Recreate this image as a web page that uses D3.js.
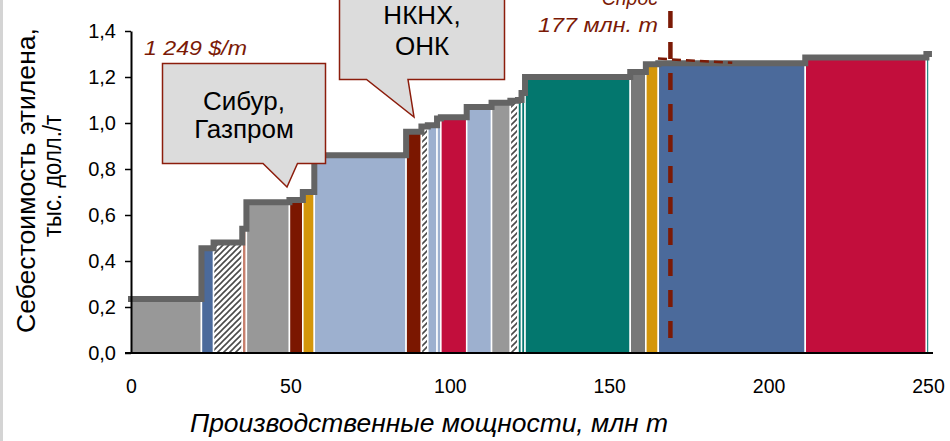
<!DOCTYPE html>
<html><head><meta charset="utf-8">
<script src="https://cdn.jsdelivr.net/npm/d3@7"></script>
<style>body{margin:0;background:#fff} svg{display:block;font-family:"Liberation Sans",Arial,sans-serif}</style>
</head><body><svg id="c" width="950" height="441"></svg>
<script>
// ---- data ----
const capacities = [22.1, 3.8, 9.0, 1.3, 13.5, 4.2, 3.6, 28.8, 4.8, 2.0, 2.9, 1.2, 8.1, 7.8, 5.9, 2.4, 1.1, 1.1, 33.0, 4.9, 3.9, 46.1, 38.0, 0.8];
const costs      = [0.235, 0.455, 0.48, 0.54, 0.655, 0.665, 0.70, 0.86, 0.962, 0.985, 0.99, 1.02, 1.025, 1.07, 1.088, 1.097, 1.10, 1.13, 1.20, 1.222, 1.255, 1.26, 1.285, 1.30];
const groups     = ["gray","blue","hatch","salmon","gray","darkred","gold","lightblue","darkred","hatch","lightblue","lightblue","crimson","lightblue","gray","hatch","teal","teal","teal","darkgray","gold","blue","crimson","teal"];
const yTicks = [0, 0.2, 0.4, 0.6, 0.8, 1.0, 1.2, 1.4];
const xTicks = [0, 50, 100, 150, 200, 250];
const demandValue = 169.2;
const demandLabel = ["Спрос", "177 млн. т"];
const priceLabel = "1 249 $/т";
const priceSegment = [[165.3, 1.28], [188.6, 1.262]];
const calloutTexts = [["Сибур,", "Газпром"], ["НКНХ,", "ОНК"]];
const xTitle = "Производственные мощности, млн т";
const yTitle = ["Себестоимость этилена,", "тыс. долл./т"];

// ---- style ----
const colors = {gray:"#989898", darkgray:"#787878", blue:"#4b6a9b", lightblue:"#9db0cf", darkred:"#7b1700",
  gold:"#d4960b", crimson:"#c20e3c", teal:"#03776e", salmon:"#c8806e", hatch:"url(#hatch)"};
const red = "#7b1a06";

const svg = d3.select("#c");
const x = d3.scaleLinear().domain([0, 250]).range([131, 928]);
const y = d3.scaleLinear().domain([0, 1.4]).range([353, 31]);

// left border
svg.append("line").attr("x1",1.5).attr("x2",1.5).attr("y1",0).attr("y2",441).attr("stroke","#d4d4d4").attr("stroke-width",3);

const defs = svg.append("defs");
const pat = defs.append("pattern").attr("id","hatch").attr("patternUnits","userSpaceOnUse").attr("width",6).attr("height",6);
pat.append("rect").attr("width",6).attr("height",6).attr("fill","#fff");
pat.append("path").attr("d","M-1.5,1.5 l3,-3 M0,6 l6,-6 M4.5,7.5 l3,-3").attr("stroke","#4a4a4a").attr("stroke-width",1.6);

// bars
let acc = 0;
const bars = capacities.map((c, i) => { const b = {x0: acc, x1: acc + c, v: costs[i], g: groups[i]}; acc += c; return b; });
svg.append("g").selectAll("rect").data(bars).join("rect")
  .attr("x", d => x(d.x0)).attr("width", d => x(d.x1) - x(d.x0))
  .attr("y", d => y(d.v)).attr("height", d => y(0) - y(d.v))
  .attr("fill", d => colors[d.g]).attr("stroke", "#fff").attr("stroke-width", 1.5);

// demand dashed line
svg.append("line").attr("x1", x(demandValue)).attr("x2", x(demandValue)).attr("y1", 11).attr("y2", y(0))
  .attr("stroke", red).attr("stroke-width", 4.5).attr("stroke-dasharray", "17,14");

// envelope
const env = bars.map(d => [d.x0, d.v]).concat([[bars[bars.length-1].x1, bars[bars.length-1].v]]);
svg.append("path").attr("d", d3.line().x(d => x(d[0])).y(d => y(d[1])).curve(d3.curveStepAfter)(env))
  .attr("fill","none").attr("stroke","#646464").attr("stroke-width",6).attr("stroke-linejoin","miter").attr("stroke-linecap","square");

// price segment
svg.append("path").attr("d", d3.line().x(d => x(d[0])).y(d => y(d[1]))(priceSegment))
  .attr("fill","none").attr("stroke", red).attr("stroke-width", 2.5).attr("stroke-dasharray","9,5");

// axes
const yAxis = svg.append("g").attr("transform", `translate(${x(0)},0)`)
  .call(d3.axisLeft(y).tickValues(yTicks).tickSize(6).tickSizeOuter(0).tickPadding(9).tickFormat(d => d3.format(".1f")(d).replace(".", ",")));
yAxis.select(".domain").attr("stroke","#000").attr("stroke-width",2);
yAxis.selectAll(".tick line").attr("stroke","#000").attr("stroke-width",1.5);
yAxis.selectAll("text").attr("font-size",20).attr("fill","#000").attr("font-family","Liberation Sans, Arial, sans-serif");

const xAxis = svg.append("g").attr("transform", `translate(0,${y(0)})`)
  .call(d3.axisBottom(x).tickValues(xTicks).tickSize(0).tickPadding(26));
xAxis.select(".domain").remove();
xAxis.selectAll("text").attr("font-size",19.5).attr("fill","#000").attr("font-family","Liberation Sans, Arial, sans-serif");
svg.append("line").attr("x1", x(0) - 6).attr("x2", x(250) + 5).attr("y1", y(0)).attr("y2", y(0)).attr("stroke","#000").attr("stroke-width",2);

// titles
svg.append("text").attr("x", 190).attr("y", 431.5).attr("font-size", 25).attr("font-style","italic")
  .attr("textLength", 478).attr("lengthAdjust","spacingAndGlyphs").text(xTitle);
const yt = svg.append("text").attr("transform","rotate(-90)").attr("font-size",25).attr("text-anchor","middle");
yt.append("tspan").attr("x", -180.5).attr("y", 35).attr("textLength", 305).attr("lengthAdjust","spacingAndGlyphs").text(yTitle[0]);
yt.append("tspan").attr("x", -176).attr("y", 61).attr("textLength", 122).attr("lengthAdjust","spacingAndGlyphs").text(yTitle[1]);

// annotations
svg.append("text").attr("x", 144).attr("y", 55).attr("font-size", 19.5).attr("font-style","italic").attr("fill", red)
  .attr("textLength", 103).attr("lengthAdjust","spacingAndGlyphs").text(priceLabel);
svg.append("text").attr("x", 658).attr("y", 5).attr("font-size", 19.5).attr("font-style","italic").attr("fill", red).attr("text-anchor","end").text(demandLabel[0]);
svg.append("text").attr("x", 538).attr("y", 32).attr("font-size", 19.5).attr("font-style","italic").attr("fill", red)
  .attr("textLength", 120).attr("lengthAdjust","spacingAndGlyphs").text(demandLabel[1]);

// callouts
const calloutShapes = [
  {box:[162.5, 63.5, 325.5, 163.5], ptr:[263, 287, 187, 297.5], cx: 244, base:[110, 138]},
  {box:[339.5, -5, 504.5, 79.5], ptr:[366.5, 414, 117, 408], cx: 422, base:[24, 55]}
];
calloutShapes.forEach((s, i) => {
  const [x0, y0, x1, y1] = s.box, [pa, tx, ty, pb] = s.ptr;
  svg.append("path").attr("d", `M${x0},${y0}H${x1}V${y1}H${pb}L${tx},${ty}L${pa},${y1}H${x0}Z`)
    .attr("fill","#dcdcdc").attr("stroke","#8c1d0c").attr("stroke-width",1.5);
  calloutTexts[i].forEach((t, j) => svg.append("text").attr("x", s.cx).attr("y", s.base[j]).attr("text-anchor","middle")
    .attr("font-size", 26).attr("fill","#000").text(t));
});
</script></body></html>
